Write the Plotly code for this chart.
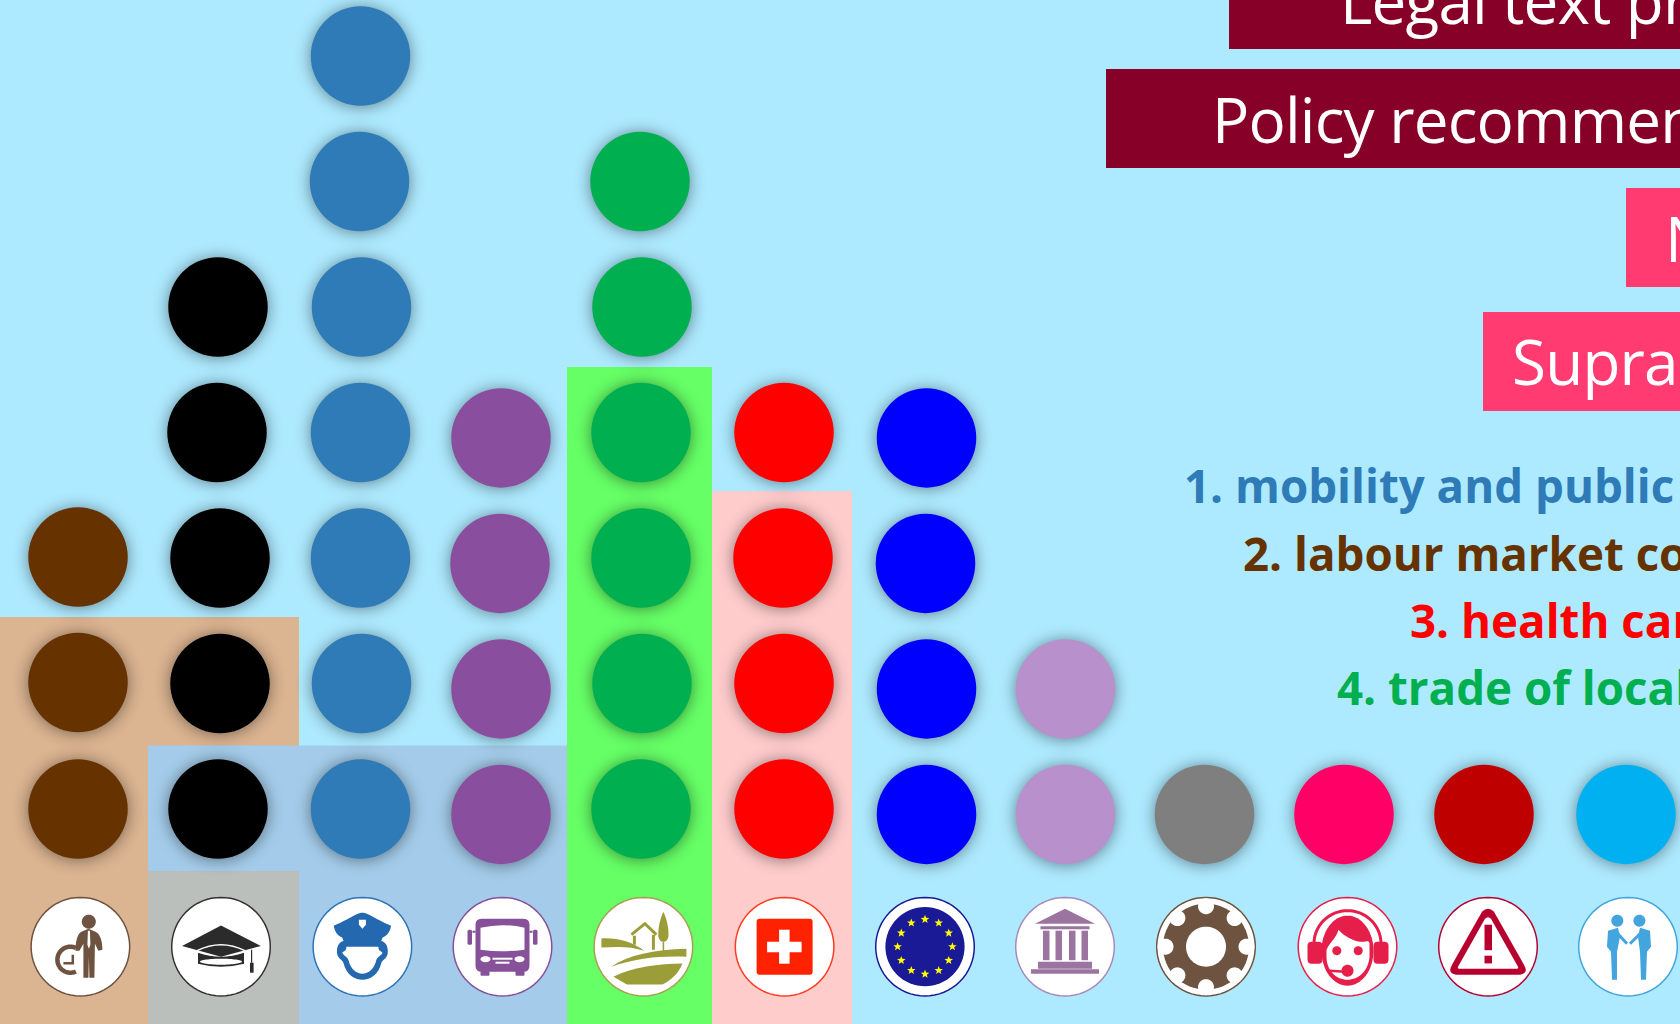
import math
import re
import plotly.graph_objects as go

# ---------- data ----------
categories = ["working time", "education", "police", "public transport", "local products",
              "health care", "EU", "institutions", "technical", "call centre", "risk", "cooperation"]
counts = [3, 5, 7, 4, 6, 4, 4, 2, 1, 1, 1, 1]
dot_colors = ["#663300", "#000000", "#2E7BB8", "#8A4E9E", "#00B050", "#FF0000",
              "#0000FF", "#B890CC", "#7F7F7F", "#FF0066", "#BF0000", "#00B0F0"]
box_labels = ["Legal text proposals", "Policy recommendations", "National", "Supranational"]
list_labels = ["1. mobility and public transport", "2. labour market cooperation",
               "3. health care", "4. trade of local products"]
list_colors = ["#2E7BB8", "#663300", "#FF0000", "#00B050"]

# ---------- layout constants (pixels on the 1680x1024 canvas) ----------
W, H = 1680, 1024
BASE_Y, PITCH = 809.0, 125.5
COLUMN_X = [78, 219, 360.5, 501, 641, 784, 926.5, 1065.5, 1204.5, 1344, 1484, 1626]
COLUMN_SINK = [0, 0, 0, 5.4, 0, 0, 5.4, 5.4, 5.4, 5.4, 5.4, 5.4]
X_NUDGE = [[0, 0, 0], [-1, 1, 1, -2, -1], [0, 1, 0, 0, 1, -1, 0], [0, 0, -1, 0],
           [0, 1, 0, 0, 1, -1], [0, 0, -1, 0], [0, 0, -1, 0], [0, 0], [0], [0], [0], [0]]
Y_NUDGE = [[0, -1, -1]] + [[0] * n for n in counts[1:]]
ICON_X = [80.4, 221, 362.4, 502.5, 643.4, 784.6, 925, 1065, 1206, 1347.5, 1488, 1628]
ICON_Y = 946.7
ICON_LINE = ["#6E5340", "#333333", "#2E74B5", "#87519A", "#A8A050", "#FF3B20", "#1A1A96",
             "#A88AB8", "#6E5340", "#E61E4A", "#B80030", "#42A5DE"]


def lv(py):
    return 1 + (BASE_Y - py) / PITCH


shapes = []


def rect(x0, y0, x1, y1, fill, layer="below"):
    shapes.append(dict(type="rect", xref="x", yref="y", x0=x0, x1=x1, y0=lv(y0), y1=lv(y1),
                       fillcolor=fill, line=dict(width=0), layer=layer))


def path(cx, cy, d, fill=None, lw=0, lc=None, rule="evenodd"):
    toks = re.findall(r"[MLCQZ]|-?\d+\.?\d*", d)
    out, isx = [], True
    for t in toks:
        if t in "MLCQZ":
            out.append(t)
            isx = True
        else:
            v = float(t)
            out.append(f"{cx + v:.2f}" if isx else f"{lv(cy + v):.5f}")
            isx = not isx
    s = dict(type="path", xref="x", yref="y", path=" ".join(out), layer="below",
             line=dict(width=lw, color=lc or "rgba(0,0,0,0)"), fillrule=rule)
    s["fillcolor"] = fill if fill else "rgba(0,0,0,0)"
    shapes.append(s)


def circ_d(x, y, rx, ry=None, a0=0, a1=360, close=True, n=64):
    ry = rx if ry is None else ry
    pts = []
    for i in range(n + 1):
        a = math.radians(a0 + (a1 - a0) * i / n)
        pts.append(f"{x + rx * math.cos(a):.2f} {y + ry * math.sin(a):.2f}")
    return "M " + " L ".join(pts) + (" Z" if close else "")


def box_d(x0, y0, x1, y1, r=0):
    if r == 0:
        return f"M {x0} {y0} L {x1} {y0} L {x1} {y1} L {x0} {y1} Z"
    return (f"M {x0 + r} {y0} L {x1 - r} {y0} Q {x1} {y0} {x1} {y0 + r} L {x1} {y1 - r} Q {x1} {y1} {x1 - r} {y1} "
            f"L {x0 + r} {y1} Q {x0} {y1} {x0} {y1 - r} L {x0} {y0 + r} Q {x0} {y0} {x0 + r} {y0} Z")


WHITE = "#FFFFFF"

# ---------- background blocks (tan drawn first, the others overlap its edges) ----------
rect(0, 617, 299, 800, "#DBB491")
rect(0, 700, 148, 1024, "#DBB491")
rect(148, 745.5, 567, 880, "#A4CCEA")
rect(299, 800, 567, 1024, "#A4CCEA")
rect(148, 871, 299, 1024, "#BBBFBB")
rect(567, 367, 712, 1024, "#66FF66")
rect(712, 491, 852, 1024, "#FFCCCC")

# ---------- boxes top right ----------
rect(1229, -10, 1690, 49, "#860027")
rect(1106, 69, 1690, 168, "#860027")
rect(1626, 188, 1690, 287, "#FF3B71")
rect(1483, 312, 1690, 411, "#FF3B71")

# ---------- icons ----------
for ix, lc in zip(ICON_X, ICON_LINE):
    path(ix, ICON_Y, circ_d(0, 0, 49.3), fill=WHITE, lw=1.5, lc=lc)

Y = ICON_Y
# 1 worker and clock
c = ICON_X[0]; col = "#6E5340"
path(c, Y, circ_d(8.4, -25, 7), fill=col)
path(c, Y, "M 8 -18 L 1 -15 C -3 -13 -5 -5 -5 4 L -1 4 L 3 -3 L 3 31 L 8 31 L 8.5 10 L 9 31 L 14 31 L 14.5 -3 L 18 4 L 22 3 C 22 -5 20 -13 15 -15 Z", fill=col)
path(c, Y, "M 7.5 -16 L 9.5 -16 L 10 -2 L 8.5 2 L 7 -2 Z", fill=WHITE)
path(c, Y, circ_d(-10, 13, 13, a0=-65, a1=-295, close=False), lw=4.5, lc=col)
path(c, Y, "M -7.6 8 L -7.6 16.5 L -17 16.5", lw=2.5, lc=col)
# 2 graduation cap
c = ICON_X[1]; col = "#2B2B2B"
path(c, Y, "M -39 -0.7 L 0 -21.3 L 39.8 -0.7 L 0 10 Z", fill=col)
path(c, Y, "M -24 4 Q 0 -8 24 4", lw=1.5, lc=WHITE)
path(c, Y, "M -23 6 L -23 17 Q 0 23 23 17 L 23 6 Q 0 14 -23 6 Z", fill=col)
path(c, Y, circ_d(0, 15, 21, 3), fill=WHITE)
path(c, Y, "M 30.6 3 L 30.6 16", lw=1.2, lc=col)
path(c, Y, box_d(29, 16, 32.6, 26), fill=col)
# 3 police
c = ICON_X[2]; col = "#2468B0"
path(c, Y, "M -18 -6 C -26 -5 -26 5 -25 8 C -23 13 -20 13 -19 16 C -16 28 -8 33 0 33 C 8 33 16 28 19 16 C 20 13 23 13 25 8 C 26 5 26 -5 18 -6 Z", fill=col)
path(c, Y, "M -16 0 C -16 5 -19 4 -20 6 C -20 8 -15 10 -14 13 C -12 22 -6 27 0 27 C 6 27 12 22 14 13 C 15 10 20 8 20 6 C 19 4 16 5 16 0 Z", fill=WHITE)
path(c, Y, "M 0 -34 C 6 -34 10 -29 28.7 -21 C 28 -16 25 -11 20 -9 L 19 -6 C 10 -1 -10 -1 -19 -6 L -20 -9 C -25 -11 -28 -16 -28.7 -21 C -10 -29 -6 -34 0 -34 Z", fill=col)
path(c, Y, "M -3.5 -27 L 3.5 -27 L 3.5 -22 L 0 -18 L -3.5 -22 Z", fill=WHITE)
# 4 bus
c = ICON_X[3]; col = "#87519A"
path(c, Y, box_d(-27, -28, 27, 25, 6), fill=col)
path(c, Y, box_d(-35, -17, -30.5, -2, 1.5), fill=col)
path(c, Y, box_d(30.5, -17, 35, -2, 1.5), fill=col)
path(c, Y, "M -30 -15 L -27 -15 M 27 -15 L 30 -15", lw=2, lc=col)
path(c, Y, box_d(-22, 24, -13, 29, 1), fill=col)
path(c, Y, box_d(13, 24, 22, 29, 1), fill=col)
path(c, Y, "M -22 -19 Q 0 -24 22 -19 L 22 3 Q 0 6 -22 3 Z", fill=WHITE)
path(c, Y, circ_d(-17, 12.5, 5, 3), fill=WHITE)
path(c, Y, circ_d(17, 12.5, 5, 3), fill=WHITE)
path(c, Y, box_d(-10, 11, 10, 13), fill=WHITE)
path(c, Y, box_d(-7, 15, 7, 17), fill=WHITE)
# 5 landscape
c = ICON_X[4]; col = "#9B9E38"
path(c, Y, "M 20 -35 C 24 -26 25.5 -18 25 -10 Q 24 -5 20 -5 Q 16 -5 15 -10 C 14.5 -18 16 -26 20 -35 Z", fill=col)
path(c, Y, "M 20 -5 L 20 4", lw=1.5, lc=col)
path(c, Y, "M -12 -12 L 1.5 -23 L 13 -12", lw=3, lc=col)
path(c, Y, "M -9 -11 L -9 -2 M 10 -12 L 10 3", lw=3, lc=col)
path(c, Y, "M -42 -8.3 C -25 -9 -12 -5 1 4 L -12 1 C -20 0 -30 0 -42 0.7 Z", fill=col)
path(c, Y, "M -32 20 C -15 8 10 3 43 2 L 43 10 C 15 9 -10 12 -32 20 Z", fill=col)
path(c, Y, "M -30 30 C -10 20 15 17 39 16.7 C 35 27 28 33 19 37.7 L -16.5 37.7 Z", fill=col)
# 6 swiss cross
c = ICON_X[5]; col = "#FF2200"
path(c, Y, box_d(-28, -28, 28, 28, 3), fill=col)
path(c, Y, box_d(-5.5, -17, 5, 17), fill=WHITE)
path(c, Y, box_d(-17.5, -5, 17, 5.5), fill=WHITE)
# 7 EU
c = ICON_X[6]; col = "#1A1A96"
path(c, Y, circ_d(0, 0, 39.6), fill=col)
for k in range(12):
    a = math.radians(30 * k)
    sx, sy = 27.4 * math.sin(a), -27.4 * math.cos(a)
    pts = []
    for j in range(10):
        r = 4.5 if j % 2 == 0 else 1.9
        b = math.radians(36 * j)
        pts.append(f"{sx + r * math.sin(b):.2f} {sy - r * math.cos(b):.2f}")
    path(c, Y, "M " + " L ".join(pts) + " Z", fill="#FFFF00")
# 8 temple
c = ICON_X[7]; col = "#9B74A0"
path(c, Y, "M 0 -38 L 30 -23 L -30 -23 Z", fill=col)
path(c, Y, box_d(-24.5, -20.5, 24.5, -17.5), fill=col)
for x0, x1 in [(-22, -15.5), (-9.5, -3), (4, 10.5), (16.5, 23)]:
    path(c, Y, box_d(x0, -16, x1, 13.5), fill=col)
path(c, Y, box_d(-27, 15, 27, 22), fill=col)
path(c, Y, box_d(-34, 22.5, 34, 27), fill=col)
# 9 gear
c = ICON_X[8]; col = "#6E5340"
path(c, Y, circ_d(0, 0, 43), fill=col)
for k in range(8):
    a = math.radians(45 * k)
    path(c, Y, circ_d(40.5 * math.cos(a), 40.5 * math.sin(a), 8), fill=WHITE)
path(c, Y, circ_d(0, 0, 20), fill=WHITE)
# 10 call centre
c = ICON_X[9]; col = "#E61E4A"
path(c, Y, circ_d(0, -3, 33.5, 33, a0=180, a1=360, close=False), lw=3, lc=col)
path(c, Y, "M -33.5 -3 L -33.5 3 M 33.5 -3 L 33.5 3", lw=3, lc=col)
path(c, Y, circ_d(0, 4, 26, 35), fill=col)
path(c, Y, box_d(-40, -5, -25, 17, 4), fill=col)
path(c, Y, box_d(26, -5, 41, 17, 4), fill=col)
path(c, Y, "M -21 3 C -18 -4 -11 -9 -9 -17 C -3 -10 6 -6 12 -5 C 20 -4 22 -8 22 -2 L 22 10 C 21 24 11 33 0 33 C -11 33 -21 24 -21 10 Z", fill=WHITE)
path(c, Y, circ_d(-10.7, 4, 4.5), fill=col)
path(c, Y, circ_d(10.7, 4, 4.5), fill=col)
path(c, Y, "M -18 24 L -2 25", lw=2.5, lc=col)
path(c, Y, circ_d(0, 24, 6), fill=col)
# 11 warning
c = ICON_X[10]; col = "#B80030"
path(c, Y, "M -6 -35 Q 0 -41 6 -35 L 36 18 Q 41 27 32 28 L -32 28 Q -41 27 -36 18 Z", fill=col)
path(c, Y, "M -3 -28 Q 0 -31 3 -28 L 30 20 Q 31 22 28 22 L -28 22 Q -31 22 -30 20 Z", fill=WHITE)
path(c, Y, box_d(-3.5, -22, 4, 3.5), fill=col)
path(c, Y, box_d(-3.5, 9, 4, 16.7), fill=col)
# 12 handshake
c = ICON_X[11]; col = "#42A5DE"
path(c, Y, circ_d(-10.7, -26, 6), fill=col)
path(c, Y, circ_d(11.4, -26, 6), fill=col)
path(c, Y, "M -20 -16 L -10 -19 L -8 -10 L -11 5 L -11 33 L -16 33 L -17 5 L -21 0 Z", fill=col)
path(c, Y, "M 22 -16 L 12 -19 L 10 -10 L 12 5 L 13 33 L 18 33 L 19 5 L 23 0 Z", fill=col)
path(c, Y, "M -12 -15 L -1 -3", lw=3, lc=col)
path(c, Y, "M 14 -15 L 2 -3", lw=3, lc=col)

# ---------- dots ----------
fig = go.Figure()
for i, name in enumerate(categories):
    xs = [COLUMN_X[i] + X_NUDGE[i][k] for k in range(counts[i])]
    ys = [k + 1 - (COLUMN_SINK[i] + Y_NUDGE[i][k]) / PITCH for k in range(counts[i])]
    fig.add_trace(go.Scatter(x=xs, y=ys, mode="markers", name=name, showlegend=False,
                             marker=dict(size=99.5, color=dot_colors[i], line=dict(width=0)),
                             hoverinfo="skip"))

# ---------- text ----------
annotations = []


def label(x, baseline, text, size, color, bold=False):
    annotations.append(dict(x=x, y=lv(baseline), xref="x", yref="y", xanchor="left", yanchor="bottom",
                            text=("<b>%s</b>" % text) if bold else text, showarrow=False, borderpad=0,
                            yshift=-size * 0.29 - 1, xshift=-size * 0.06 - 1,
                            font=dict(family="Open Sans", size=size, color=color), align="left"))


for x, b, t in zip([1344, 1216, 1669, 1516], [24, 143, 262, 385], box_labels):
    label(x, b, t, 62, WHITE)
for x, b, t, c2 in zip([1187, 1246, 1413, 1340], [503, 571, 638, 705], list_labels, list_colors):
    label(x, b, t, 45.7, c2, bold=True)

fig.update_layout(
    width=W, height=H, margin=dict(l=0, r=0, t=0, b=0, pad=0), autosize=False,
    paper_bgcolor="#AEEAFF", plot_bgcolor="#AEEAFF", showlegend=False,
    xaxis=dict(range=[0, W], visible=False, fixedrange=True),
    yaxis=dict(range=[lv(H), lv(0)], visible=False, fixedrange=True),
    shapes=shapes, annotations=annotations,
)
post = """
document.body.style.margin='0';document.documentElement.style.overflow='hidden';
document.querySelectorAll('.scatterlayer .point').forEach(function(p){
  p.style.filter='drop-shadow(0.5px 1.5px 8px rgba(0,0,0,0.45))';});
document.querySelectorAll('.annotation-text').forEach(function(t,i){
  if(i<4){t.style.letterSpacing='-0.8px';}});
"""
fig.write_html("out.html", post_script=post, config=dict(displayModeBar=False))
